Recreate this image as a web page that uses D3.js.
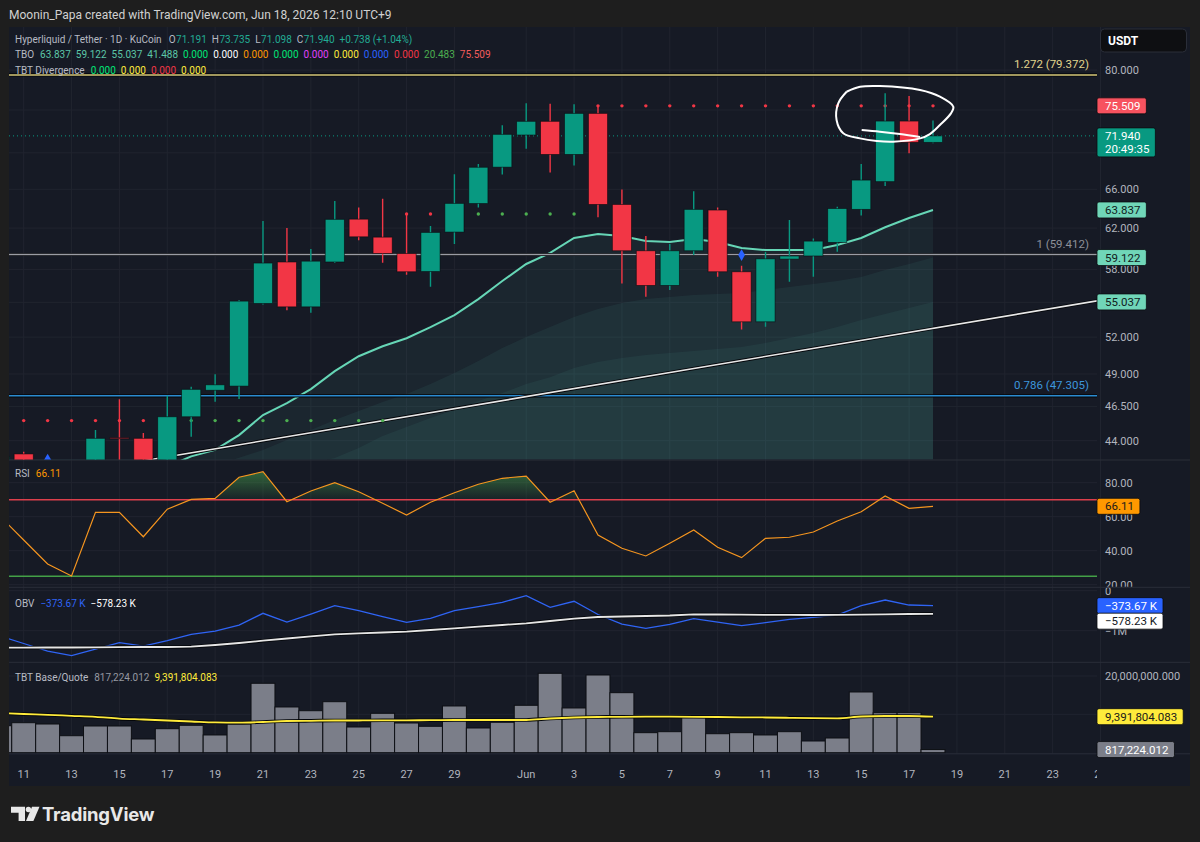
<!DOCTYPE html>
<html>
<head>
<meta charset="utf-8">
<script src="https://cdn.jsdelivr.net/npm/d3@7"></script>
<style>
html, body { margin: 0; padding: 0; background: #1e1e1e; }
svg { display: block; font-family: Roboto, "Liberation Sans", sans-serif; }
</style>
</head>
<body>
<div id="chart"></div>
<script>
// ---- data ----
var dates = ["2026-05-10","2026-05-11","2026-05-12","2026-05-13","2026-05-14","2026-05-15","2026-05-16","2026-05-17",
  "2026-05-18","2026-05-19","2026-05-20","2026-05-21","2026-05-22","2026-05-23","2026-05-24","2026-05-25","2026-05-26",
  "2026-05-27","2026-05-28","2026-05-29","2026-05-30","2026-05-31","2026-06-01","2026-06-02","2026-06-03","2026-06-04",
  "2026-06-05","2026-06-06","2026-06-07","2026-06-08","2026-06-09","2026-06-10","2026-06-11","2026-06-12","2026-06-13",
  "2026-06-14","2026-06-15","2026-06-16","2026-06-17","2026-06-18"];

var open  = [42.2, 43.07, 41.9, 41.3, 40.9, 44.21, 44.17, 42.6, 45.73, 47.73, 48.05, 54.9, 58.7, 54.6, 58.7, 62.9, 61.1, 59.5, 57.8, 61.6,
  64.5, 68.4, 72.04, 73.65, 69.82, 74.6, 64.41, 59.77, 56.52, 59.77, 63.83, 57.78, 53.3, 58.97, 59.27, 60.58, 63.9, 66.82, 73.68, 71.191];
var high  = [43.0, 43.22, 42.4, 42.0, 44.77, 47.04, 44.55, 47.31, 48.0, 48.97, 55.2, 62.7, 62.0, 59.94, 64.76, 64.1, 65.0, 63.5, 62.2, 67.62,
  68.76, 73.17, 75.82, 75.77, 75.69, 75.4, 65.99, 61.2, 60.42, 65.8, 64.1, 58.34, 59.65, 62.81, 60.97, 64.16, 68.76, 77.05, 76.72, 73.735];
var low   = [41.8, 41.3, 40.6, 40.2, 40.7, 42.1, 42.2, 42.3, 44.28, 46.85, 47.07, 54.8, 54.3, 54.08, 58.6, 60.8, 58.62, 57.5, 56.4, 60.42,
  64.1, 67.6, 70.46, 67.82, 68.57, 63.1, 56.7, 55.5, 56.1, 59.36, 57.32, 52.65, 52.87, 56.86, 57.32, 59.67, 63.26, 66.35, 69.94, 71.098];
var close = [42.9, 41.9, 41.3, 40.9, 44.17, 44.17, 42.6, 45.73, 47.8, 48.15, 55.11, 58.6, 54.6, 58.78, 62.88, 61.13, 59.51, 57.78, 61.57, 64.52,
  68.39, 72.12, 73.65, 69.82, 74.6, 64.41, 59.77, 56.52, 59.77, 63.9, 57.78, 53.3, 59.0, 59.27, 60.71, 63.99, 66.99, 73.68, 71.202, 71.94];

// TBO bands
var tboFast = [41.4, 41.5, 41.55, 41.6, 41.7, 41.85, 41.95, 42.2, 42.9, 43.35, 44.4, 45.86, 46.75, 47.82, 49.22, 50.42, 51.24, 51.91, 52.84, 53.88,
  55.29, 56.93, 58.51, 59.56, 61.02, 61.42, 61.22, 60.73, 60.63, 60.92, 60.63, 60.04, 59.84, 59.84, 59.84, 60.33, 61.02, 62.08, 63.01, 63.837];
var tboMid  = [40.1, 40.3, 40.5, 40.7, 40.9, 41.1, 41.3, 41.6, 41.9, 42.3, 42.8, 43.35, 44.05, 44.77, 45.49, 46.15, 46.83, 47.44, 48.21, 49.07,
  50.03, 51.09, 52.01, 52.86, 53.71, 54.41, 54.94, 55.29, 55.47, 55.65, 55.74, 55.83, 56.10, 56.38, 56.65, 56.92, 57.29, 57.94, 58.50, 59.122];
var tboSlow = [39.0, 39.2, 39.4, 39.6, 39.8, 40.0, 40.3, 40.6, 40.9, 41.2, 41.5, 41.8, 42.1, 42.4, 42.79, 43.48, 44.33, 44.98, 45.64, 46.23,
  46.91, 47.51, 48.21, 48.75, 49.47, 49.95, 50.28, 50.52, 50.69, 50.85, 51.01, 51.18, 51.51, 51.92, 52.34, 52.86, 53.45, 53.98, 54.50, 55.037];

// TBO stop dots
var dotLevel = [45.45, 45.45, 45.45, 45.45, 45.45, 45.45, 45.45, 45.45, 45.45, 45.45, 45.45, 45.45, 45.45, 45.45, 45.45, 45.45, 45.45,
  63.42, 63.42, 63.42, 63.42, 63.42, 63.42, 63.42, 63.42,
  75.509, 75.509, 75.509, 75.509, 75.509, 75.509, 75.509, 75.509, 75.509, 75.509, 75.509, 75.509, 75.509, 75.509, 75.509];
var dotSide = ["short","short","short","short","short","short","short","long","long","long","long","long","long","long","long","long","long",
  "short","short","long","long","long","long","long","long",
  "short","short","short","short","short","short","short","short","short","short","short","short","short","short","short"];

var signalDates  = ["2026-05-12", "2026-06-10"];
var signalPrices = [42.62, 59.36];
var signalShapes = ["triangle", "diamond"];

// fib levels + trend line drawing
var fibRatios = ["1.272", "1", "0.786"];
var fibPrices = [79.372, 59.412, 47.305];
var trendDates  = ["2026-05-17", "2026-06-18"];
var trendPrices = [42.87, 52.74];

// hand-drawn loop: [days after May 11, price]
var loopOuter = [[34.39,77.25],[34.95,77.87],[35.78,77.96],[37.46,77.46],[38.29,76.63],[38.85,75.40],[38.75,74.60],[38.29,73.21],
  [37.87,72.15],[37.46,71.65],[36.33,71.27],[35.65,71.35],[34.95,71.65],[34.25,72.24],[33.97,73.80],[34.04,75.82],[34.39,77.25]];
var loopInner = [[35.02,72.62],[35.78,72.42],[36.62,72.15],[37.46,71.81]];

var rsi = [60.4, 46.3, 32.2, 25.1, 62.6, 62.6, 48.2, 64.4, 70.2, 70.8, 83.2, 86.5, 68.8, 75.1, 80.0, 74.7, 67.9, 61.0, 68.5, 74.1,
  79.1, 82.6, 83.9, 68.5, 75.3, 49.2, 41.4, 36.9, 44.4, 52.2, 42.0, 35.9, 47.3, 47.9, 51.0, 57.5, 62.9, 72.2, 64.9, 66.11];
var rsiBands = [70, 25];

// OBV in thousands
var obv = [-1133, -1320, -1508, -1625, -1458, -1300, -1383, -1250, -1090, -1008, -858, -565, -783, -583, -375, -500, -650, -790, -690, -500,
  -400, -290, -125, -415, -265, -595, -833, -940, -840, -700, -783, -875, -800, -715, -665, -608, -375, -233, -358, -373.67];
var obvMa = [-1425, -1425, -1420, -1420, -1415, -1412, -1408, -1408, -1400, -1358, -1308, -1250, -1195, -1140, -1090, -1065, -1045, -1025, -983, -940,
  -900, -858, -815, -758, -700, -658, -645, -633, -620, -590, -595, -600, -603, -605, -607, -606, -598, -590, -583, -578.23];

// TBT base/quote in millions
var baseQuote = [7.04, 7.82, 7.48, 4.43, 6.96, 6.96, 3.57, 6.26, 7.14, 4.62, 7.48, 18.10, 11.92, 10.95, 13.30, 6.70, 10.27, 7.74, 6.88, 12.18,
  6.44, 7.93, 12.36, 20.70, 11.66, 20.26, 15.65, 5.22, 5.48, 9.39, 4.95, 5.22, 4.62, 5.48, 3.05, 3.83, 15.83, 10.43, 10.43, 0.817224012];
var baseQuoteMa = [10.35, 10.09, 9.88, 9.62, 9.36, 8.89, 8.66, 8.40, 8.14, 7.88, 7.82, 8.01, 8.27, 8.32, 8.40, 8.40, 8.45, 8.45, 8.47, 8.53,
  8.53, 8.53, 8.53, 8.92, 9.18, 9.31, 9.36, 9.39, 9.39, 9.36, 9.31, 9.23, 9.18, 9.10, 9.00, 8.97, 9.44, 9.57, 9.57, 9.391804083];

var tboLegend = ["63.837","59.122","55.037","41.488","0.000","0.000","0.000","0.000","0.000","0.000","0.000","0.000","20.483","75.509"];
var tbtDivLegend = ["0.000","0.000","0.000","0.000"];

var dateTicks = ["2026-05-11","2026-05-13","2026-05-15","2026-05-17","2026-05-19","2026-05-21","2026-05-23","2026-05-25","2026-05-27",
  "2026-05-29","2026-06-01","2026-06-03","2026-06-05","2026-06-07","2026-06-09","2026-06-11","2026-06-13","2026-06-15","2026-06-17",
  "2026-06-19","2026-06-21","2026-06-23","2026-06-25"];
var priceTicks = [80, 75, 70, 66, 62, 58, 55, 52, 49, 46.5, 44];
var rsiTicks = [80, 60, 40, 20];
var obvTicks = [0, -1000];
var bqTicks = [20, 10];

function init(){
    var w = 1200, h = 842;
    var L = 9, R = 1097, AR = 1190;
    var up = "#089981", down = "#f23645";
    var grid = "#20242f";
    var axisText = "#b2b5be";
    var parse = d3.utcParse("%Y-%m-%d");
    var n = dates.length;
    var last = n - 1;

    var svg = d3.select("#chart").append("svg")
                .attr("width", w).attr("height", h);
    var defs = svg.append("defs");

    svg.append("rect").attr("width", w).attr("height", h).attr("fill", "#1e1e1e");
    svg.append("text").attr("x", 9).attr("y", 19).attr("fill", "#d1d1d1")
       .style("font-size", "12px")
       .text("Moonin_Papa created with TradingView.com, Jun 18, 2026 12:10 UTC+9");

    // chart panel
    svg.append("rect").attr("x", L).attr("y", 27).attr("width", AR - L).attr("height", 759)
       .attr("fill", "#161a25");

    var x = d3.scaleUtc()
              .domain([parse("2026-05-11"), parse("2026-06-18")])
              .range([23.7, 933.0]);
    var step = x(parse("2026-05-12")) - x(parse("2026-05-11"));
    var xi = function(i){ return x(parse(dates[i])); };

    var panes = {
        main: [27, 459.5],
        rsi:  [460.5, 586.8],
        obv:  [587.8, 661.8],
        vol:  [662.8, 753.5]
    };

    var y  = d3.scaleLog().domain([42.72, 85.75]).range([459, 27]);
    var yR = d3.scaleLinear().domain([18.76, 93.06]).range([586.8, 460.5]);
    var yO = d3.scaleLinear().domain([-1777.5, 72.5]).range([661.8, 587.8]);
    var yV = d3.scaleLinear().domain([-0.21, 23.44]).range([753.5, 662.8]);

    function clip(id, y0, y1, x1){
        defs.append("clipPath").attr("id", id).append("rect")
            .attr("x", L).attr("y", y0).attr("width", x1 - L).attr("height", y1 - y0);
        return "url(#" + id + ")";
    }
    var cMain = clip("cMain", panes.main[0], panes.main[1], R);
    var cRsi  = clip("cRsi", panes.rsi[0], panes.rsi[1], R);
    var cObv  = clip("cObv", panes.obv[0], panes.obv[1], R);
    var cVol  = clip("cVol", panes.vol[0], panes.vol[1], R);
    var cRsiA = clip("cRsiA", panes.rsi[0], panes.rsi[1], AR);
    var cObvA = clip("cObvA", panes.obv[0], panes.obv[1], AR);
    var cTime = clip("cTime", 753.5, 786, R);

    // vertical grid
    var gridG = svg.append("g");
    gridG.selectAll("line.v").data(dateTicks).enter().append("line")
         .attr("x1", function(d){ return x(parse(d)); })
         .attr("x2", function(d){ return x(parse(d)); })
         .attr("y1", 27).attr("y2", 753.5)
         .attr("stroke", grid).attr("stroke-width", 1);

    // horizontal grids
    function hgrid(ticks, sc){
        gridG.selectAll(null).data(ticks).enter().append("line")
             .attr("x1", L).attr("x2", R)
             .attr("y1", function(d){ return sc(d); })
             .attr("y2", function(d){ return sc(d); })
             .attr("stroke", grid).attr("stroke-width", 1);
    }
    hgrid(priceTicks, y); hgrid(rsiTicks, yR); hgrid(obvTicks, yO); hgrid(bqTicks, yV);

    // pane separators
    [460, 587.3, 662.3, 753.8].forEach(function(s){
        svg.append("line").attr("x1", L).attr("x2", AR).attr("y1", s).attr("y2", s)
           .attr("stroke", "#2a2e39").attr("stroke-width", 1);
    });

    // ---------- main pane ----------
    var main = svg.append("g").attr("clip-path", cMain);
    var idx = d3.range(n);

    var bandFill = "rgba(80,170,160,0.09)";
    [tboFast, tboMid, tboSlow].forEach(function(arr){
        main.append("path")
            .datum(idx)
            .attr("d", d3.area().x(xi).y0(panes.main[1]).y1(function(i){ return y(arr[i]); }))
            .attr("fill", bandFill);
    });
    main.append("path").datum(idx)
        .attr("d", d3.line().x(xi).y(function(i){ return y(tboFast[i]); }))
        .attr("fill", "none").attr("stroke", "#66d6b6").attr("stroke-width", 2);

    // fib levels
    var fibColor = ["#d6c87a", "#9a9ca4", "#2b8bd0"];
    var fibText  = ["#e2d58d", "#8d9099", "#3d96dc"];
    fibPrices.forEach(function(p, k){
        main.append("line").attr("x1", L).attr("x2", R).attr("y1", y(p)).attr("y2", y(p))
            .attr("stroke", "#05070b").attr("stroke-width", 3.2);
        main.append("line").attr("x1", L).attr("x2", R).attr("y1", y(p)).attr("y2", y(p))
            .attr("stroke", fibColor[k]).attr("stroke-width", 1.5);
        main.append("text").attr("x", 1089).attr("y", y(p) - 7)
            .attr("text-anchor", "end").attr("fill", fibText[k])
            .style("font-size", "11.5px")
            .text(fibRatios[k] + " (" + d3.format(".3f")(p) + ")");
    });

    // trend line drawing (ray in screen space)
    var tx0 = x(parse(trendDates[0])), ty0 = y(trendPrices[0]);
    var tx1 = x(parse(trendDates[1])), ty1 = y(trendPrices[1]);
    var slope = (ty1 - ty0) / (tx1 - tx0);
    var tl = [[L, ty0 + slope * (L - tx0)], [R, ty0 + slope * (R - tx0)]];
    main.append("path").attr("d", d3.line()(tl)).attr("stroke", "#05070b").attr("stroke-width", 3.4).attr("fill", "none");
    main.append("path").attr("d", d3.line()(tl)).attr("stroke", "#e8e8e8").attr("stroke-width", 1.6).attr("fill", "none");

    // last price dotted line
    main.append("line").attr("x1", L).attr("x2", R)
        .attr("y1", y(close[last])).attr("y2", y(close[last]))
        .attr("stroke", up).attr("stroke-width", 1).attr("stroke-dasharray", "1,3");

    // stop dots
    main.selectAll("circle.dot").data(idx).enter().append("circle")
        .attr("cx", xi).attr("cy", function(i){ return y(dotLevel[i]); })
        .attr("r", 1.7)
        .attr("fill", function(i){ return dotSide[i] === "long" ? "#4caf50" : "#f23645"; });

    // candles
    var bw = step * 0.8;
    var cg = main.selectAll("g.c").data(idx).enter().append("g");
    cg.append("line")
      .attr("x1", xi).attr("x2", xi)
      .attr("y1", function(i){ return y(high[i]); })
      .attr("y2", function(i){ return y(low[i]); })
      .attr("stroke", function(i){ return close[i] >= open[i] ? up : down; })
      .attr("stroke-width", 1.4);
    cg.append("rect")
      .attr("x", function(i){ return xi(i) - bw / 2; })
      .attr("width", bw)
      .attr("y", function(i){ return y(Math.max(open[i], close[i])); })
      .attr("height", function(i){ return Math.max(1, Math.abs(y(open[i]) - y(close[i]))); })
      .attr("fill", function(i){ return close[i] >= open[i] ? up : down; })
      .attr("stroke", "rgba(8,10,14,0.7)").attr("stroke-width", 0.8);

    // signals
    signalDates.forEach(function(d, k){
        var sx = x(parse(d)), sy = y(signalPrices[k]);
        var sym = signalShapes[k] === "triangle" ? d3.symbolTriangle : d3.symbolDiamond;
        main.append("path").attr("d", d3.symbol().type(sym).size(signalShapes[k] === "triangle" ? 60 : 40)())
            .attr("transform", "translate(" + sx + "," + sy + ")")
            .attr("fill", "#2962ff");
    });

    // hand-drawn loop
    var t0 = parse("2026-05-11").getTime();
    var loopLine = d3.line()
        .x(function(p){ return x(new Date(t0 + p[0] * 864e5)); })
        .y(function(p){ return y(p[1]); })
        .curve(d3.curveCatmullRom.alpha(0.5));
    main.append("path").attr("d", loopLine(loopOuter)).attr("fill", "none")
        .attr("stroke", "#ffffff").attr("stroke-width", 2);
    main.append("path").attr("d", loopLine(loopInner)).attr("fill", "none")
        .attr("stroke", "#ffffff").attr("stroke-width", 2);

    // ---------- RSI pane ----------
    var rg = svg.append("g").attr("clip-path", cRsi);
    var grad = defs.append("linearGradient").attr("id", "rsiGrad")
        .attr("gradientUnits", "userSpaceOnUse")
        .attr("x1", 0).attr("x2", 0).attr("y1", yR(88)).attr("y2", yR(rsiBands[0]));
    grad.append("stop").attr("offset", 0).attr("stop-color", "#4caf50").attr("stop-opacity", 0.55);
    grad.append("stop").attr("offset", 1).attr("stop-color", "#4caf50").attr("stop-opacity", 0.05);
    defs.append("clipPath").attr("id", "rsiTop").append("rect")
        .attr("x", L).attr("y", panes.rsi[0]).attr("width", R - L).attr("height", yR(rsiBands[0]) - panes.rsi[0]);
    rg.append("g").attr("clip-path", "url(#rsiTop)").append("path").datum(idx)
      .attr("d", d3.area().x(xi).y0(yR(rsiBands[0])).y1(function(i){ return yR(rsi[i]); }))
      .attr("fill", "url(#rsiGrad)");
    rg.append("line").attr("x1", L).attr("x2", R).attr("y1", yR(rsiBands[0])).attr("y2", yR(rsiBands[0]))
      .attr("stroke", "#dc3f4c").attr("stroke-width", 1.5);
    rg.append("line").attr("x1", L).attr("x2", R).attr("y1", yR(rsiBands[1])).attr("y2", yR(rsiBands[1]))
      .attr("stroke", "#43a047").attr("stroke-width", 1.5);
    rg.append("path").datum(idx)
      .attr("d", d3.line().x(xi).y(function(i){ return yR(rsi[i]); }))
      .attr("fill", "none").attr("stroke", "#f5951f").attr("stroke-width", 1.2);

    // ---------- OBV pane ----------
    var og = svg.append("g").attr("clip-path", cObv);
    og.append("path").datum(idx)
      .attr("d", d3.line().x(xi).y(function(i){ return yO(obv[i]); }))
      .attr("fill", "none").attr("stroke", "#2f64f5").attr("stroke-width", 1.3);
    og.append("path").datum(idx)
      .attr("d", d3.line().x(xi).y(function(i){ return yO(obvMa[i]); }))
      .attr("fill", "none").attr("stroke", "#05070b").attr("stroke-width", 3.6);
    og.append("path").datum(idx)
      .attr("d", d3.line().x(xi).y(function(i){ return yO(obvMa[i]); }))
      .attr("fill", "none").attr("stroke", "#e6e6e6").attr("stroke-width", 1.8);

    // ---------- base/quote pane ----------
    var vg = svg.append("g").attr("clip-path", cVol);
    vg.selectAll("rect.b").data(idx).enter().append("rect")
      .attr("x", function(i){ return xi(i) - step / 2; })
      .attr("width", step)
      .attr("y", function(i){ return yV(baseQuote[i]); })
      .attr("height", function(i){ return yV(0) - yV(baseQuote[i]); })
      .attr("fill", "#7b7e89").attr("stroke", "#0d0f14").attr("stroke-width", 1);
    vg.append("path").datum(idx)
      .attr("d", d3.line().x(xi).y(function(i){ return yV(baseQuoteMa[i]); }).curve(d3.curveMonotoneX))
      .attr("fill", "none").attr("stroke", "#05070b").attr("stroke-width", 3.6);
    vg.append("path").datum(idx)
      .attr("d", d3.line().x(xi).y(function(i){ return yV(baseQuoteMa[i]); }).curve(d3.curveMonotoneX))
      .attr("fill", "none").attr("stroke", "#ffeb3b").attr("stroke-width", 1.8);

    // ---------- time axis ----------
    svg.append("g").attr("clip-path", cTime)
       .selectAll("text").data(dateTicks).enter().append("text")
       .attr("x", function(d){ return x(parse(d)); }).attr("y", 778)
       .attr("text-anchor", "middle").attr("fill", axisText)
       .style("font-size", "11px")
       .text(function(d){ var t = parse(d); return t.getUTCDate() === 1 ? d3.utcFormat("%b")(t) : t.getUTCDate(); });

    // ---------- right axis ----------
    var ax = svg.append("g").style("font-size", "11px");
    var badgesY = [y(dotLevel[last]), y(close[last]), y(close[last]) + 14, y(tboFast[last]), y(tboSlow[last])];
    priceTicks.forEach(function(p){
        var py = y(p);
        var hidden = badgesY.some(function(b){ return Math.abs(b - py) < 10; });
        if (!hidden) {
            ax.append("text").attr("x", 1105).attr("y", py + 4).attr("fill", axisText)
              .text(d3.format(".3f")(p));
        }
    });
    var rAx = svg.append("g").attr("clip-path", cRsiA).style("font-size", "11px");
    rsiTicks.forEach(function(v){
        rAx.append("text").attr("x", 1105).attr("y", yR(v) + 4).attr("fill", axisText).text(d3.format(".2f")(v));
    });
    var oAx = svg.append("g").attr("clip-path", cObvA).style("font-size", "11px");
    obvTicks.forEach(function(v){
        oAx.append("text").attr("x", 1105).attr("y", yO(v) + 4).attr("fill", axisText)
           .text(v === 0 ? "0" : "\u22121M");
    });
    bqTicks.slice(0, 1).forEach(function(v){
        ax.append("text").attr("x", 1105).attr("y", yV(v) + 4).attr("fill", axisText)
          .text(d3.format(",.3f")(v * 1e6));
    });

    function badge(cy, label, fill, color, sub){
        var g = svg.append("g").style("font-size", "11.5px");
        var hgt = sub ? 29 : 16;
        var top = cy - 8;
        var r = g.append("rect").attr("x", R).attr("y", top).attr("height", hgt).attr("rx", 2)
                 .attr("fill", fill).attr("stroke", "#0a0c10").attr("stroke-width", 0.8);
        var t = g.append("text").attr("x", 1105).attr("y", cy + 4).attr("fill", color).text(label);
        var wd = t.node().getComputedTextLength();
        if (sub) {
            var s = g.append("text").attr("x", 1105).attr("y", cy + 17.5).attr("fill", color).text(sub);
            wd = Math.max(wd, s.node().getComputedTextLength());
        }
        r.attr("width", wd + 14);
    }
    var fmt3 = d3.format(".3f");
    badge(y(dotLevel[last]), fmt3(dotLevel[last]), "#f7525f", "#ffffff");
    badge(y(close[last]), fmt3(close[last]), up, "#ffffff", "20:49:35");
    badge(y(tboFast[last]), fmt3(tboFast[last]), "#70d6b8", "#10201c");
    badge(y(tboMid[last]), fmt3(tboMid[last]), "#70d6b8", "#10201c");
    badge(y(tboSlow[last]), fmt3(tboSlow[last]), "#70d6b8", "#10201c");
    badge(yR(rsi[last]), d3.format(".2f")(rsi[last]), "#ff9800", "#1a1a1a");
    var kfmt = function(v){ return (v < 0 ? "\u2212" : "") + d3.format(".2f")(Math.abs(v)) + " K"; };
    badge(yO(obv[last]), kfmt(obv[last]), "#2962ff", "#ffffff");
    badge(yO(obv[last]) + 15.5, kfmt(obvMa[last]), "#ffffff", "#131722");
    badge(yV(baseQuoteMa[last]), d3.format(",.3f")(baseQuoteMa[last] * 1e6), "#ffeb3b", "#1a1a1a");
    badge(yV(baseQuote[last]), d3.format(",.3f")(baseQuote[last] * 1e6), "#7b7e89", "#ffffff");

    // currency box
    svg.append("rect").attr("x", 1100.5).attr("y", 29).attr("width", 86).attr("height", 23).attr("rx", 4)
       .attr("fill", "#0e0f12").attr("stroke", "#2a2e39");
    svg.append("text").attr("x", 1108).attr("y", 44.5).attr("fill", "#ffffff")
       .style("font-size", "12px").style("font-weight", "700").text("USDT");

    // ---------- legends ----------
    var lg = svg.append("g").style("font-size", "10px");
    function flow(x0, yy, parts){
        var cx = x0;
        parts.forEach(function(p){
            var t = lg.append("text").attr("x", cx).attr("y", yy).attr("fill", p[1]).text(p[0]);
            cx += t.node().getComputedTextLength() + (p[2] == null ? 5 : p[2]);
        });
    }
    var lab = "#b8bbc4", teal = "#22ab94";
    var chg = close[last] - close[last - 1];
    flow(15, 43.3, [
        ["Hyperliquid / Tether \u00b7 1D \u00b7 KuCoin", lab, 7],
        ["O", lab, 0.5], [fmt3(open[last]), teal],
        ["H", lab, 0.5], [fmt3(high[last]), teal],
        ["L", lab, 0.5], [fmt3(low[last]), teal],
        ["C", lab, 0.5], [fmt3(close[last]), teal],
        ["+" + fmt3(chg) + " (+" + d3.format(".2f")(chg / close[last - 1] * 100) + "%)", teal]
    ]);
    var tboColors = ["#5cc7a8","#5cc7a8","#5cc7a8","#5cc7a8","#00e676","#ffffff","#ff9800","#00e676",
                     "#e040fb","#ffeb3b","#2962ff","#f23645","#4caf50","#f25c5c"];
    flow(15, 58.3, [["TBO", lab, 6]].concat(tboLegend.map(function(v, k){ return [v, tboColors[k]]; })));
    var divColors = ["#00e676", "#ffeb3b", "#f23645", "#ffeb3b"];
    flow(15, 74.3, [["TBT Divergence", lab, 6]].concat(tbtDivLegend.map(function(v, k){ return [v, divColors[k]]; })));
    flow(15, 477.3, [["RSI", lab, 6], [d3.format(".2f")(rsi[last]), "#ff9800"]]);
    flow(15, 607.3, [["OBV", lab, 6], [kfmt(obv[last]), "#2f64f5"], [kfmt(obvMa[last]), "#ffffff"]]);
    flow(15, 681.3, [["TBT Base/Quote", lab, 6],
        [d3.format(",.3f")(baseQuote[last] * 1e6), "#9598a1"],
        [d3.format(",.3f")(baseQuoteMa[last] * 1e6), "#ffeb3b"]]);

    // ---------- TradingView logo ----------
    var logo = svg.append("g").attr("fill", "#e8e8e8");
    logo.append("path").attr("d", "M11,806.7 H25 V821 H18.6 V812.8 H11 Z");
    logo.append("circle").attr("cx", 28.4).attr("cy", 809.5).attr("r", 2.7);
    logo.append("path").attr("d", "M32,806.7 H39.5 L33.4,821 H26 Z");
    logo.append("text").attr("x", 42).attr("y", 820.5)
        .style("font-family", "Inter, Roboto, sans-serif")
        .style("font-size", "18.5px").style("font-weight", "700")
        .style("letter-spacing", "-0.2px")
        .text("TradingView");
}
window.onload = init;
</script>
</body>
</html>
